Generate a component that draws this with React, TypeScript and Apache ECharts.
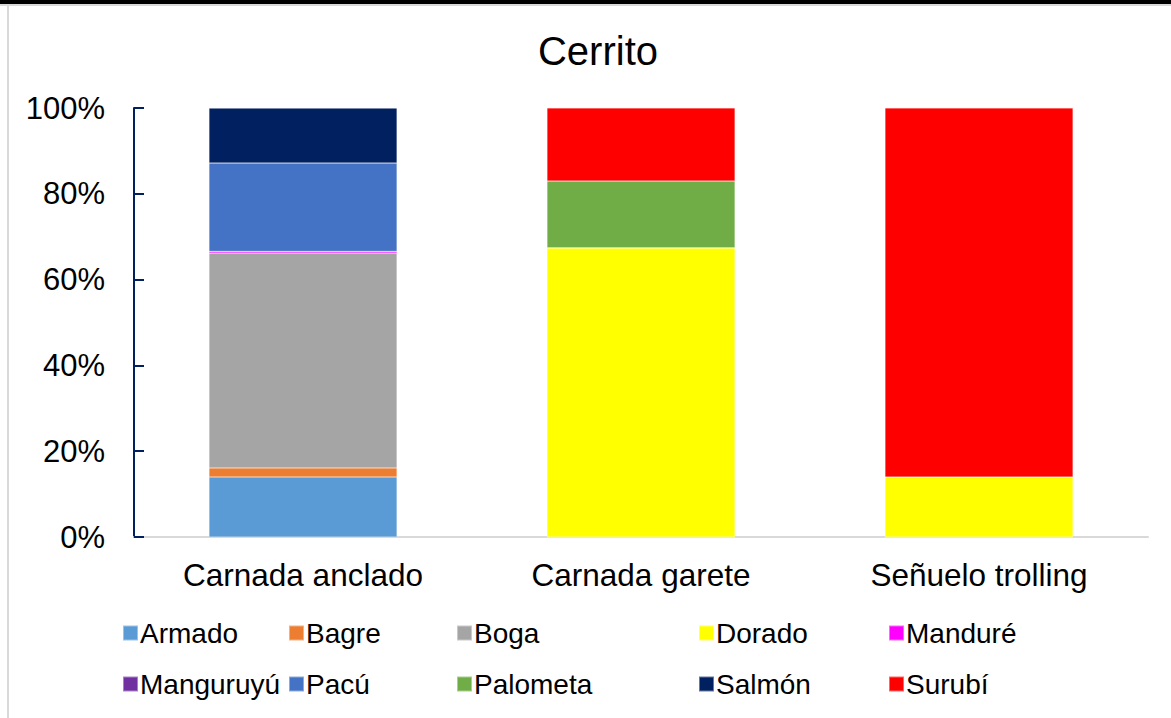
import React, { useEffect, useRef } from "react";
import * as echarts from "echarts";

const categories = ["Carnada anclado", "Carnada garete", "Señuelo trolling"];
const speciesNames = ["Armado", "Bagre", "Boga", "Dorado", "Manduré", "Manguruyú", "Pacú", "Palometa", "Salmón", "Surubí"];
const speciesColors = ["#5B9BD5", "#ED7D31", "#A5A5A5", "#FFFF00", "#FF00FF", "#7030A0", "#4472C4", "#70AD47", "#002060", "#FF0000"];
// percentages per category (anclado, garete, trolling)
const armado = [14.0, 0, 0];
const bagre = [2.1, 0, 0];
const boga = [50.1, 0, 0];
const dorado = [0, 67.4, 14.0];
const mandure = [0.4, 0, 0];
const manguruyu = [0, 0, 0];
const pacu = [20.6, 0, 0];
const palometa = [0, 15.6, 0];
const salmon = [12.8, 0, 0];
const surubi = [0, 17.0, 86.0];
const seriesValues = [armado, bagre, boga, dorado, mandure, manguruyu, pacu, palometa, salmon, surubi];
const yTicks = [0, 20, 40, 60, 80, 100];

const legendLeft = [122, 288, 456, 698, 888];
const legendTop = [619, 670];

export default function App() {
  const ref = useRef<HTMLDivElement>(null);
  useEffect(() => {
    if (!ref.current) return;
    const chart = echarts.init(ref.current, null, { renderer: "svg" });
    const font = "'Liberation Sans', Arial, sans-serif";
    const legends = speciesNames.map((name, i) => ({
      show: true,
      data: [name],
      left: legendLeft[i % 5],
      top: legendTop[Math.floor(i / 5)],
      padding: 0,
      icon: "rect",
      itemWidth: 15,
      itemHeight: 15,
      itemGap: 0,
      selectedMode: false,
      textStyle: { fontFamily: font, fontSize: 28, color: "#000", padding: [0, 0, 0, -3] },
    }));
    chart.setOption({
      animation: false,
      backgroundColor: "#fff",
      title: {
        text: "Cerrito",
        left: 593,
        textAlign: "center",
        top: 26,
        textStyle: { fontFamily: font, fontSize: 40, fontWeight: "normal", color: "#000" },
      },
      legend: legends,
      grid: { left: 134, right: 23, top: 108, bottom: 181 },
      xAxis: {
        type: "category",
        data: categories,
        axisLine: { lineStyle: { color: "#D9D9D9", width: 2 } },
        axisTick: { show: false },
        axisLabel: { fontFamily: font, fontSize: 31.5, color: "#000", margin: 22 },
      },
      yAxis: {
        type: "value",
        min: yTicks[0],
        max: yTicks[yTicks.length - 1],
        interval: 20,
        axisLine: { show: true, lineStyle: { color: "#002060", width: 2 } },
        axisTick: { show: true, inside: true, length: 10, lineStyle: { color: "#002060", width: 2 } },
        splitLine: { show: false },
        axisLabel: { fontFamily: font, fontSize: 31, color: "#000", margin: 29, formatter: "{value}%" },
      },
      series: speciesNames.map((name, i) => ({
        name,
        type: "bar",
        stack: "total",
        barWidth: 188,
        data: seriesValues[i],
        itemStyle: { color: speciesColors[i], borderColor: "rgba(255,255,255,0.4)", borderWidth: 0.5 },
      })),
      graphic: [
        { type: "rect", shape: { x: 0, y: 0, width: 1171, height: 4 }, style: { fill: "#000" } },
        { type: "rect", shape: { x: 0, y: 4, width: 1171, height: 2 }, style: { fill: "#D9D9D9" } },
        { type: "rect", shape: { x: 7, y: 5, width: 2, height: 713 }, style: { fill: "#D9D9D9" } },
      ],
    });
    return () => chart.dispose();
  }, []);
  return (
    <div
      ref={ref}
      style={{ position: "fixed", left: 0, top: 0, width: 1171, height: 718, background: "#fff" }}
    />
  );
}
